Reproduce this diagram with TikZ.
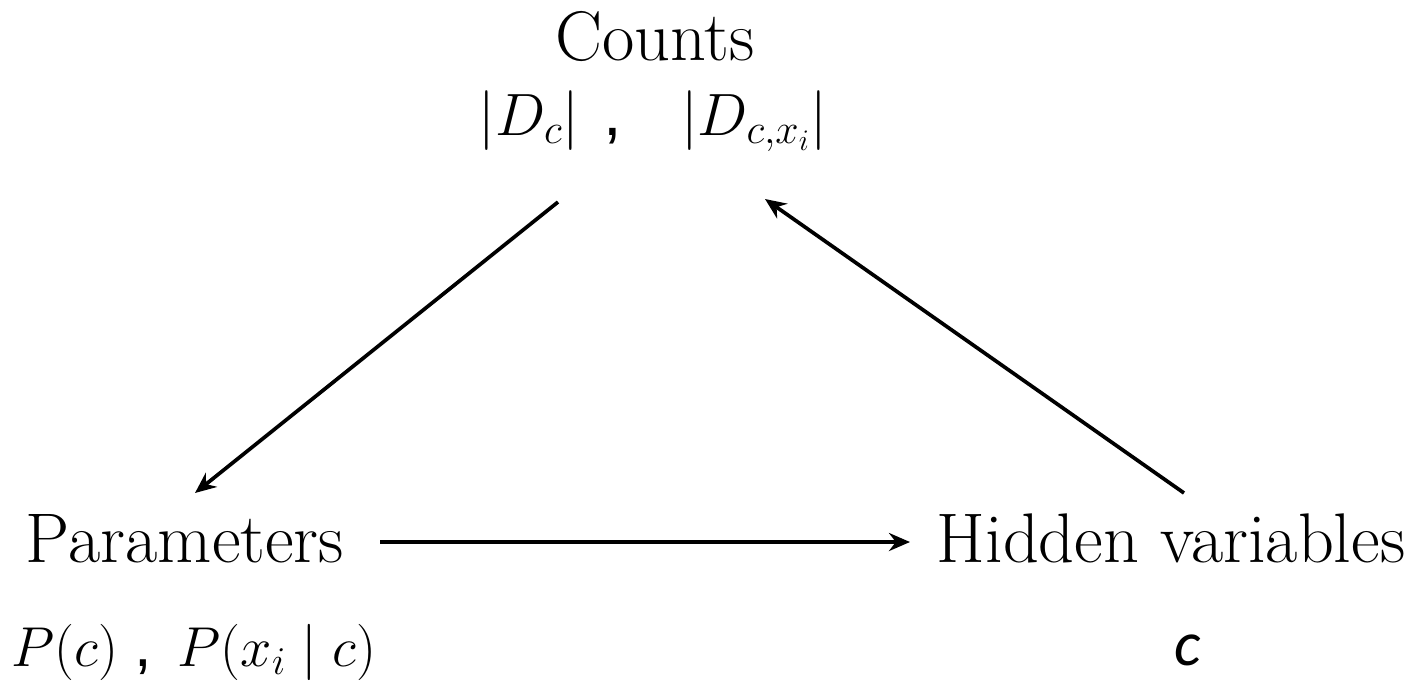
\RequirePackage{fix-cm}
\documentclass[tikz,border=0pt]{standalone}
\usepackage{amsmath}
\usepackage{fontspec}
\usepackage{tikz}
\usetikzlibrary{arrows.meta,calc,positioning}
\newfontfamily\commafont{Liberation Sans}
\newfontfamily\varfont{Carlito}
\tikzset{
  label text/.style={font=\fontsize{40}{44}\selectfont, inner sep=0pt, anchor=base},
  math text/.style={inner sep=0pt, anchor=base},
  flow/.style={-{Stealth[length=0.42cm,width=0.36cm]}, line width=2.1pt}
}

\begin{document}
\begin{tikzpicture}[x=0.02cm, y=-0.02cm]
  \useasboundingbox (0,0) rectangle (1426,681);

  % top: counts
  \node[label text] (counts) at (655,60) {Counts};
  \node[math text, font=\fontsize{34}{40}\selectfont] (countsmath) at (653,135)
    {$|D_c|$\hspace{0.4em}{\commafont\fontsize{38}{40}\selectfont,}\hspace{1em}$|D_{c,x_i}|$};

  % bottom left: parameters
  \node[label text] (params) at (185,562) {Parameters};
  \node[math text, font=\fontsize{32}{38}\selectfont] (paramsmath) at (194,666)
    {$P(c)$\hspace{0.3em}{\commafont\fontsize{36}{38}\selectfont,}\hspace{0.45em}$P(x_i\mid c)$};

  % bottom right: hidden variables
  \node[label text] (hidden) at (1171,562) {Hidden variables};
  \node[math text, font=\fontsize{36}{40}\selectfont] (hiddenmath) at (1188,665)
    {\varfont\itshape c};

  % connector ends
  \coordinate (cl) at (558,202);
  \coordinate (pt) at (195,493);
  \coordinate (ps) at (380,542);
  \coordinate (ht) at (910,542);
  \coordinate (hs) at (1184,493);
  \coordinate (ct) at (765,199);

  \draw[flow] (cl) -- (pt);
  \draw[flow] (ps) -- (ht);
  \draw[flow] (hs) -- (ct);
\end{tikzpicture}
\end{document}
